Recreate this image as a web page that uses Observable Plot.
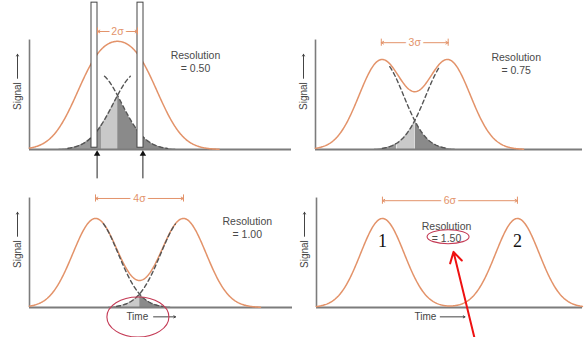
<!DOCTYPE html>
<html>
<head>
<meta charset="utf-8">
<script src="https://cdn.jsdelivr.net/npm/d3@7"></script>
<script src="https://cdn.jsdelivr.net/npm/@observablehq/plot@0.6"></script>
<style>
  html, body { margin: 0; padding: 0; background: #fff; }
  #root { position: relative; width: 584px; height: 337px; overflow: hidden; font-family: "Liberation Sans", Arial, sans-serif; }
  #root > svg { position: absolute; overflow: visible; background: transparent; }
</style>
</head>
<body>
<div id="root"></div>
<script>
// ---- data ----
const resolutionLabels = ["= 0.50", "= 0.75", "= 1.00", "= 1.50"];
const separationLabels = ["2σ", "3σ", "4σ", "6σ"];
const peak1Time = [3.4, 2.95, 3.0, 2.93];   // retention time of peak 1 (time units from the axis)
const peak2Time = [5.4, 5.95, 7.0, 8.93];   // retention time of peak 2
const peakWidth = [1.2, 1.0, 1.03, 0.97];   // drawn peak standard deviation (time units)
const peakHeight = [0.86, 1, 1, 1];         // relative height of each single peak
const peakNames = ["1", "2"];

// ---- layout ----
const ORANGE = "#e3936a";
const AXIS = "#7c7c7c";
const layout = [
  {left: 0,   top: 0,   h: 170, axisX: 29, base: 149, end: 291, pxUnit: 20,   sigY: 1.326, resT: 8.3,  resY: 1.05, timeT: null, dashed: true},
  {left: 292, top: 0,   h: 170, axisX: 23, base: 149, end: 290, pxUnit: 22.3, sigY: 1.20,  resT: 9.0,  resY: 1.03, timeT: null, dashed: true},
  {left: 0,   top: 170, h: 167, axisX: 29, base: 137, end: 292, pxUnit: 22,   sigY: 1.225, resT: 9.9,  resY: 0.96, timeT: 4.9,  arrowT: [5.64, 6.64], dashed: true},
  {left: 292, top: 170, h: 167, axisX: 24, base: 137, end: 290, pxUnit: 22.5, sigY: 1.20,  resT: 5.78, resY: 0.91, timeT: 4.84, arrowT: [5.5, 6.6], dashed: false}
];
const YMAX = 1.23, PX_UNIT = 89;

function ellipseMark(t, v, rx, ry, color) {
  return (index, scales) => {
    const e = document.createElementNS("http://www.w3.org/2000/svg", "ellipse");
    e.setAttribute("cx", scales.x(t));
    e.setAttribute("cy", scales.y(v));
    e.setAttribute("rx", rx);
    e.setAttribute("ry", ry);
    e.setAttribute("fill", "none");
    e.setAttribute("stroke", color);
    e.setAttribute("stroke-width", 1.1);
    return e;
  };
}

function panel(i) {
  const L = layout[i];
  const p1 = peak1Time[i], p2 = peak2Time[i], hgt = peakHeight[i], w = peakWidth[i];
  const xmax = (L.end - L.axisX) / L.pxUnit;
  const c = (p1 + p2) / 2;
  const pts = d3.range(0, xmax + 1e-9, 0.03).map(t => {
    const g1 = hgt * Math.exp(-(((t - p1) / w) ** 2) / 2);
    const g2 = hgt * Math.exp(-(((t - p2) / w) ** 2) / 2);
    return {t, g1, g2, sum: g1 + g2, min: Math.min(g1, g2)};
  });
  const marks = [];
  // overlap shading
  if (L.dashed) {
    marks.push(
      Plot.areaY(pts.filter(d => d.t <= c - 0.8 && d.min > 0.004), {x: "t", y: "min", fill: "#9a9a9a"}),
      Plot.areaY(pts.filter(d => d.t >= c - 0.82 && d.t <= c + 0.01), {x: "t", y: "min", fill: "#c9c9c9"}),
      Plot.areaY(pts.filter(d => d.t >= c && d.min > 0.004), {x: "t", y: "min", fill: "#8a8a8a"})
    );
  }
  // axes
  marks.push(
    Plot.ruleY([0], {stroke: AXIS, strokeWidth: 2}),
    Plot.ruleX([0], {stroke: AXIS, strokeWidth: 1.6})
  );
  // combined signal
  marks.push(Plot.line(pts.filter(d => d.t <= p2 + 3.4 * w), {x: "t", y: "sum", stroke: ORANGE, strokeWidth: 1.5}));
  // individual peaks, dashed
  if (L.dashed) {
    marks.push(
      Plot.line(pts.filter(d => d.t >= p1 + 0.35 && d.g1 > 0.012), {x: "t", y: "g1", stroke: "#555", strokeWidth: 1.4, strokeDasharray: "4,3"}),
      Plot.line(pts.filter(d => d.t <= p2 - 0.35 && d.g2 > 0.012), {x: "t", y: "g2", stroke: "#555", strokeWidth: 1.4, strokeDasharray: "4,3"})
    );
  }
  // slits in panel 1
  if (i === 0) {
    const slits = [{x1: p1 - 0.3, x2: p1}, {x1: p2, x2: p2 + 0.3}];
    marks.push(
      Plot.rectY(slits, {x1: "x1", x2: "x2", y1: 0.02, y2: 1.65, fill: "white", stroke: "#444", strokeWidth: 1}),
      Plot.ruleX([p1 - 0.02, p2 + 0.27], {y1: -0.33, y2: -0.06, stroke: "#222", strokeWidth: 1}),
      Plot.dot([p1 - 0.02, p2 + 0.27], {x: d => d, y: -0.05, symbol: "triangle", r: 2.4, fill: "#111", stroke: null})
    );
  }
  // separation annotation
  marks.push(
    Plot.arrow([{a: c, b: p1}, {a: c, b: p2}], {x1: "a", x2: "b", y1: L.sigY, y2: L.sigY, stroke: ORANGE, strokeWidth: 1, headLength: 4}),
    Plot.ruleX([p1, p2], {y1: L.sigY - 0.04, y2: L.sigY + 0.04, stroke: ORANGE, strokeWidth: 1}),
    Plot.text([separationLabels[i]], {x: c, y: L.sigY, text: d => d, fill: ORANGE, stroke: "white", strokeWidth: 6, fontSize: 10.5, fontFamily: "Liberation Sans"})
  );
  // resolution text
  marks.push(
    Plot.text(["Resolution", resolutionLabels[i]], {x: L.resT, y: (d, j) => L.resY - j * 0.14, text: d => d, fill: "#4a4a4a", fontSize: 10.5, fontFamily: "Liberation Sans"})
  );
  // Signal label
  marks.push(
    Plot.text(["Signal"], {x: 0, y: 0.6, text: d => d, rotate: -90, dx: -12, fill: "#444", fontSize: 10, fontFamily: "Liberation Sans"}),
    Plot.arrow([0], {x1: 0, x2: 0, y1: 0.8, y2: 1.07, dx: -12, stroke: "#444", strokeWidth: 1, headLength: 3})
  );
  // Time label
  if (L.timeT !== null) {
    marks.push(
      Plot.text(["Time"], {x: L.timeT, y: -0.105, text: d => d, fill: "#444", fontSize: 10, fontFamily: "Liberation Sans"}),
      Plot.arrow([0], {x1: L.arrowT[0], x2: L.arrowT[1], y1: -0.105, y2: -0.105, stroke: "#444", strokeWidth: 1, headLength: 3})
    );
  }
  if (i === 2) {
    marks.push(ellipseMark(4.95, -0.112, 31, 20, "#c43a55"));
  }
  if (i === 3) {
    marks.push(
      Plot.text(peakNames, {x: (d, j) => j === 0 ? p1 : p2, y: 0.74, text: d => d, fill: "#111", fontSize: 18, fontFamily: "Liberation Serif"}),
      ellipseMark(5.87, 0.79, 21, 7, "#c43a55"),
      Plot.arrow([0], {x1: 7.02, y1: -0.34, x2: 6.09, y2: 0.625, stroke: "#ee1111", strokeWidth: 2, headLength: 9})
    );
  }
  const plot = Plot.plot({
    width: 292,
    height: L.h,
    marginLeft: L.axisX,
    marginRight: 292 - L.end,
    marginBottom: L.h - L.base,
    marginTop: L.base - YMAX * PX_UNIT,
    x: {domain: [0, xmax], axis: null},
    y: {domain: [0, YMAX], axis: null},
    style: {background: "transparent", overflow: "visible"},
    marks
  });
  plot.style.left = L.left + "px";
  plot.style.top = L.top + "px";
  return plot;
}

const root = document.getElementById("root");
for (let i = 0; i < 4; i++) root.appendChild(panel(i));
</script>
</body>
</html>
